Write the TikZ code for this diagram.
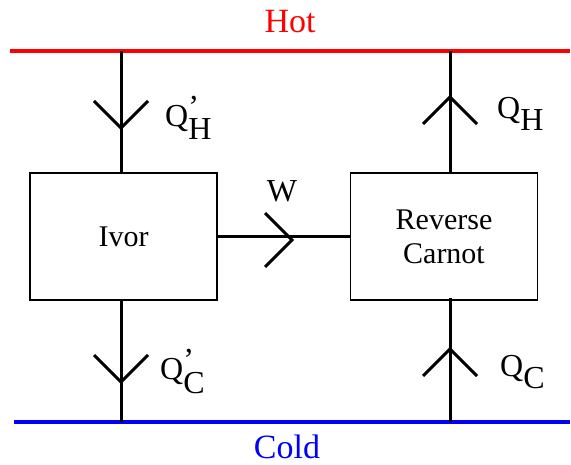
\documentclass[tikz,border=0pt]{standalone}
\usepackage{fontspec}
\setmainfont{Liberation Serif}
\usetikzlibrary{positioning}

\tikzset{
  engine/.style={draw, line width=1.5pt, minimum width=187pt, minimum height=127pt,
    align=center, font=\fontsize{30}{34}\selectfont},
  flow/.style={line width=3pt},
  heat/.style={font=\fontsize{32}{36}\selectfont, anchor=west, inner sep=0pt},
  reservoir/.style={font=\fontsize{34}{38}\selectfont, inner sep=0pt},
  barb/.pic={\draw[flow] (-27,27) -- (0,0) -- (-27,-27);}
}

\begin{document}
\begin{tikzpicture}[x=1pt, y=-1pt]
    \useasboundingbox (0,0) rectangle (571,465);

    % Reservoirs
    \draw[red, line width=4pt] (10,51) -- (570,51);
    \draw[blue, line width=4pt] (14,422) -- (570,422);
    \node[reservoir, red] (hot) at (290,22) {Hot};
    \node[reservoir, blue] (cold) at (287,447) {Cold};

    % Engines
    \node[engine] (ivor) at (123.5,236.5) {Ivor};
    \node[engine] (carnot) at (444,236.5) {Reverse\\Carnot};

    \coordinate (hotL) at (121,51);
    \coordinate (coldL) at (121,422);
    \coordinate (hotR) at (450,51);
    \coordinate (coldR) at (450,422);

    % Heat flows
    \draw[flow] (hotL) -- (hotL |- ivor.north);
    \draw[flow] (hotL |- ivor.south) -- (coldL);
    \draw[flow] (hotR) -- (hotR |- carnot.north);
    \draw[flow] (coldR) -- ([yshift=3pt]coldR |- carnot.south);
    \draw[flow] (ivor.east) -- (carnot.west);

    % Arrow heads
    \pic[rotate=-90] at (121,128) {barb};
    \pic[rotate=-90] at (121,382) {barb};
    \pic[rotate=90] at (450,97) {barb};
    \pic[rotate=90] at (450,349) {barb};
    \pic at (292,240) {barb};

    % Labels
    \node[heat] (qhi) at (165,119) {Q$^{\textnormal{’}}_{\raisebox{2pt}{\textnormal{H}}}$};
    \node[heat] (qci) at (160,372) {Q$^{\textnormal{’}}_{\raisebox{2pt}{\textnormal{C}}}$};
    \node[heat] (qhc) at (497,115) {Q$_{\raisebox{2pt}{\textnormal{H}}}$};
    \node[heat] (qcc) at (500,373) {Q$_{\raisebox{2pt}{\textnormal{C}}}$};
    \node[font=\fontsize{32}{36}\selectfont] (work) at (282,191) {W};
\end{tikzpicture}
\end{document}
